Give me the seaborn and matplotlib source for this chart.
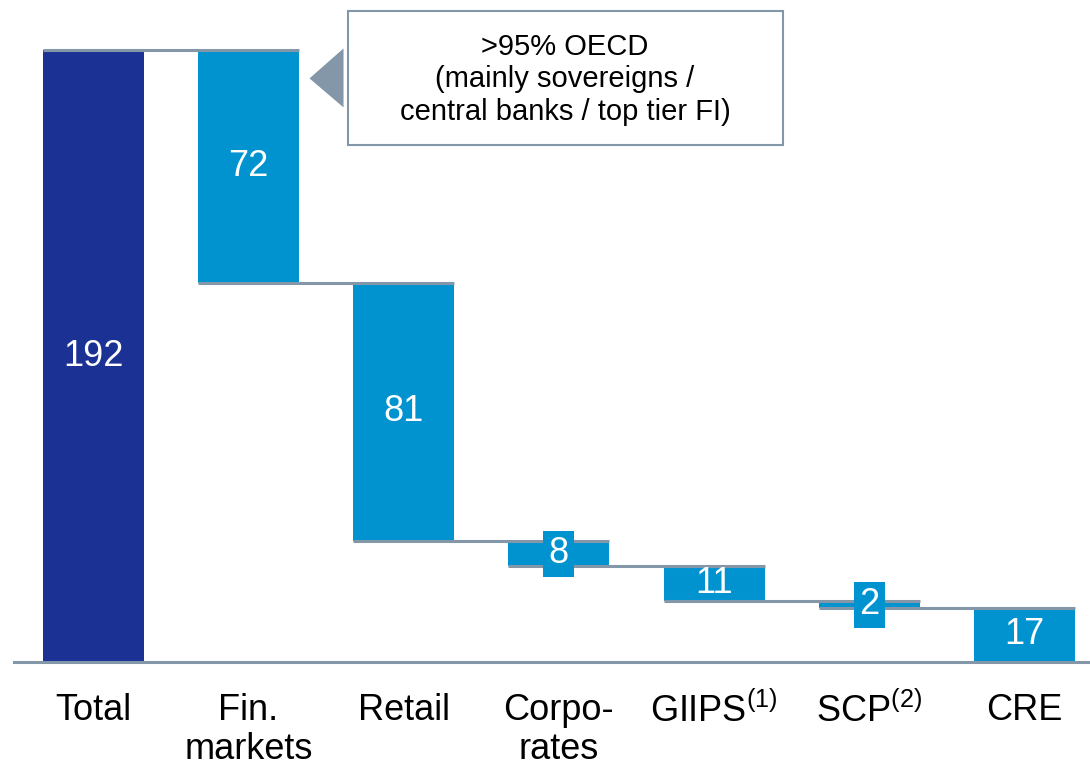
import numpy as np
import matplotlib
matplotlib.use("Agg")
import matplotlib.pyplot as plt
import seaborn as sns
from matplotlib.patches import Rectangle, Polygon

# data
categories = ["Total", "Fin.\nmarkets", "Retail", "Corpo-\nrates",
              "GIIPS$^{(1)}$", "SCP$^{(2)}$", "CRE"]
values = [192, 72, 81, 8, 11, 2, 17]
boxed_labels = [False, False, False, True, False, True, False]
note_text = ">95% OECD\n(mainly sovereigns /\ncentral banks / top tier FI)"

navy = "#1B3294"
blue = "#0093D0"
line_grey = "#8497A8"

sns.set_theme(style="white")
plt.rcParams["font.family"] = ["Liberation Sans", "DejaVu Sans"]
plt.rcParams["mathtext.fontset"] = "custom"
plt.rcParams["mathtext.rm"] = "Liberation Sans"
plt.rcParams["mathtext.it"] = "Liberation Sans"

# waterfall: the steps stack up from the baseline, the total sits on 0
steps = np.array(values[1:], dtype=float)
step_bottoms = np.cumsum(steps[::-1])[::-1] - steps
bottoms = np.concatenate([[0.0], step_bottoms])
heights = np.array(values, dtype=float)
# first step absorbs the rounding so it closes on the total
heights[1] = values[0] - bottoms[1]

fig = plt.figure(figsize=(10.9, 7.68), dpi=100)
ax = fig.add_axes([14 / 1090, 106 / 768, 1076 / 1090, 662 / 768])

bar_w = 0.65
sns.barplot(x=categories, y=heights, color=blue, width=bar_w,
            saturation=1, linewidth=0, ax=ax, zorder=2)
for p, b in zip(ax.patches, bottoms):
    p.set_y(b)
ax.patches[0].set_facecolor(navy)

# connector lines between neighbouring bars
levels = [values[0]] + list(bottoms[1:-1])
for i, lev in enumerate(levels):
    ax.plot([i - bar_w / 2, i + 1 + bar_w / 2], [lev, lev],
            color=line_grey, lw=2.2, zorder=3, solid_capstyle="butt")

# value labels
for i, (v, b, h, boxed) in enumerate(zip(values, bottoms, heights, boxed_labels)):
    kw = {}
    if boxed:
        kw["bbox"] = dict(boxstyle="square,pad=0.15", fc=blue, ec="none")
    ax.text(i, b + h / 2, str(v), ha="center", va="center", color="white",
            fontsize=26, zorder=5, **kw)

# callout box next to Fin. markets
ax.add_patch(Rectangle((1.645, 162.1), 4.44 - 1.645, 204.4 - 162.1,
                       fc="white", ec=line_grey, lw=1.5, zorder=4))
ax.add_patch(Polygon([[1.394, 183.1], [1.613, 192.5], [1.613, 174.0]],
                     closed=True, fc=line_grey, ec="none", zorder=4))
ax.text(3.04, 182.8, note_text, ha="center", va="center", fontsize=21,
        linespacing=1.2, color="black", zorder=5)

ax.set_xlim(-0.509, 6.42)
ax.set_ylim(0, 207.7)
ax.set_yticks([])
ax.set_xlabel("")
ax.set_ylabel("")
for s in ["top", "right", "left"]:
    ax.spines[s].set_visible(False)
ax.spines["bottom"].set_color(line_grey)
ax.spines["bottom"].set_linewidth(2.2)
ax.tick_params(axis="x", length=0, pad=22, labelsize=26, labelcolor="black")
for lab in ax.get_xticklabels():
    lab.set_verticalalignment("top")
    lab.set_linespacing(1.15)

fig.savefig("out.png", dpi=100)
